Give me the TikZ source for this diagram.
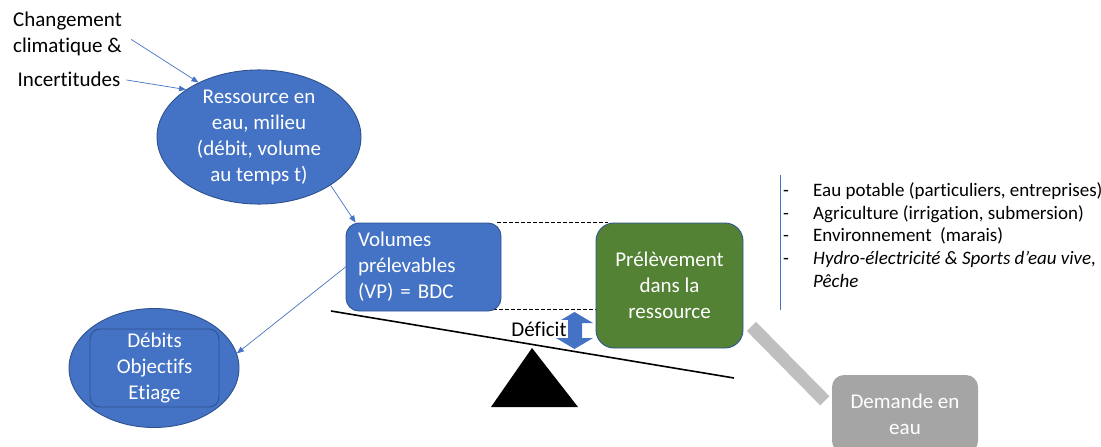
\documentclass[tikz,border=0pt]{standalone}
\usepackage{fontspec}
\setmainfont{Carlito}[Ligatures={TeX,NoCommon}]
\usetikzlibrary{shapes.geometric,arrows.meta,calc,backgrounds}
\definecolor{accblue}{HTML}{4472C4}
\definecolor{edgeblue}{HTML}{2F528F}
\definecolor{leafgreen}{HTML}{548235}
\definecolor{stonegrey}{HTML}{A5A5A5}
\definecolor{bargrey}{HTML}{BFBFBF}
\tikzset{
  mainfont/.style={font=\fontsize{21}{26}\selectfont},
  listfont/.style={font=\fontsize{19}{22.7}\selectfont},
  plaintext/.style={mainfont, align=left, inner sep=0pt},
  bluell/.style={ellipse, fill=accblue, draw=edgeblue, line width=0.9pt,
    text=white, align=center, inner sep=0pt, mainfont},
  bluebox/.style={rectangle, rounded corners=13pt, fill=accblue, draw=edgeblue,
    line width=0.9pt, text=white, mainfont},
  greenbox/.style={rectangle, rounded corners=18pt, fill=leafgreen, draw=edgeblue,
    line width=0.9pt, text=white, align=center, mainfont},
  greybox/.style={rectangle, rounded corners=12pt, fill=stonegrey,
    text=white, align=center, mainfont},
  link/.style={draw=accblue, line width=0.7pt, -{Triangle[length=7pt,width=5.5pt]}},
  guide/.style={dash pattern=on 3.5pt off 2.5pt, line width=0.8pt},
}
\newcommand{\usageitem}[1]{\makebox[30pt][l]{-}#1}
\begin{document}
\begin{tikzpicture}[x=1pt,y=-1pt]
\useasboundingbox (0,0) rectangle (1101,447);
\clip (0,0) rectangle (1101,447);

% external drivers
\node[plaintext] (cc) at (67.5,33.5) {Changement\\climatique \&};
\node[plaintext] (inc) at (69,79) {Incertitudes};

% resource ellipse
\node[bluell, minimum width=204pt, minimum height=134pt] (res) at (259,137)
  {Ressource en\\eau, milieu\\(débit, volume\\au temps t)};

% balance: the two boxes
\node[bluebox, minimum width=155pt, minimum height=88pt, text width=131pt, align=left]
  (vol) at (423.5,267) {Volumes\\prélevables\\(VP) = BDC};
\node[greenbox, minimum width=147pt, minimum height=125pt] (prel) at (669.5,285.5)
  {Prélèvement\\dans la\\ressource};

% dashed level guides, behind the boxes
\begin{scope}[on background layer]
\draw[guide] ([xshift=-4pt]vol.north east) -- ([xshift=12pt]vol.north east -| prel.west);
\draw[guide] ([xshift=-14pt,yshift=2pt]vol.south east) -- ([yshift=2pt]vol.south east -| prel.west);
\end{scope}

% target flows ellipse
\node[bluell, minimum width=170pt, minimum height=119pt] (deb) at (154,368) {};
\node[draw=edgeblue, line width=0.9pt, rounded corners=10pt, minimum width=129pt,
  minimum height=78pt, text=white, align=center, mainfont] (debin) at (154.5,368)
  {Débits\\Objectifs\\Etiage};

% demand
\node[greybox, minimum width=146pt, minimum height=78pt] (dem) at (905,414)
  {Demande en\\eau};
\draw[bargrey, line width=13pt] ($(prel.south east)+(8,-22)$) -- ($(dem.north west)+(-7,26)$);

% deficit double arrow
\fill[accblue] (574.5,312) -- (593,323) -- (582,323) -- (582,338) -- (593,338)
  -- (574.5,349) -- (556,338) -- (567,338) -- (567,323) -- (556,323) -- cycle;
\node[fill=white, inner sep=1.5pt, mainfont] (def) at (539,329) {Déficit};

% beam and pivot
\coordinate (beamL) at (331,311);
\coordinate (beamR) at (734,378);
\draw[line width=1.6pt] (beamL) -- (beamR);
\coordinate (pivot) at (532,348);
\fill (pivot) -- (578,407) -- (491,407) -- cycle;

% links
\draw[link, shorten <=11pt] (cc.east) -- (res.138);
\draw[link, shorten <=6pt] (inc.east) -- (res.147);
\draw[link] (res.-34) -- ($(vol.north west)+(10,0)$);
\draw[link] (vol.west) -- (deb.10);

% water uses
\coordinate (sepTop) at (780,175);
\coordinate (sepBot) at (780,310);
\draw[accblue, line width=0.8pt] (sepTop) -- (sepBot);
\node[anchor=west, inner sep=0pt, align=left, listfont] (uses) at (783,235)
  {\usageitem{Eau potable (particuliers, entreprises)}\\
   \usageitem{Agriculture (irrigation, submersion)}\\
   \usageitem{Environnement\ \ (marais)}\\
   \usageitem{\textit{Hydro-électricité \& Sports d’eau vive,}}\\
   \makebox[30pt][l]{}\textit{Pêche}};
\end{tikzpicture}
\end{document}
